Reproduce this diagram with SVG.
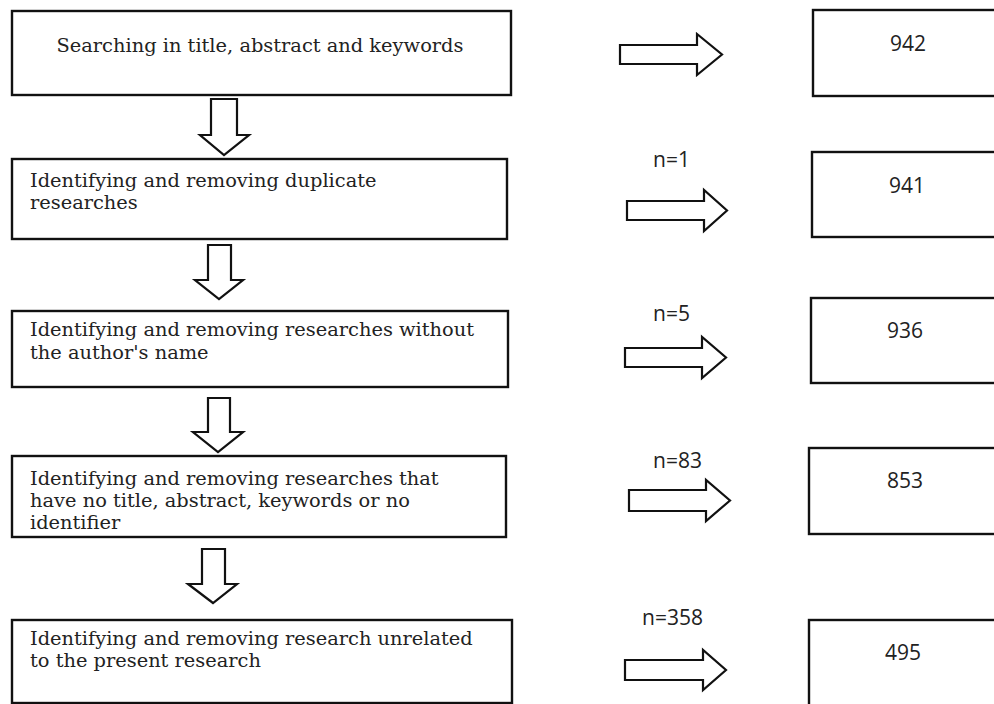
<svg xmlns="http://www.w3.org/2000/svg" width="994" height="704" viewBox="0 0 994 704">
<style>
.box{fill:#fff;stroke:#111;stroke-width:2.4}
.arr{fill:#fff;stroke:#111;stroke-width:2.2;stroke-linejoin:miter}
.lt{font-family:"DejaVu Serif","Liberation Serif",serif;font-size:19.4px;fill:#222}
.num{font-family:"Open Sans","DejaVu Sans",sans-serif;font-size:21px;fill:#222;text-anchor:middle}
.n{font-family:"Open Sans","DejaVu Sans",sans-serif;font-size:21px;fill:#222}
</style>
<rect width="994" height="704" fill="#fff"/>
<g id="step1"><rect class="box" x="12" y="11" width="499" height="84"/><text class="lt" x="260" y="52" text-anchor="middle">Searching in title, abstract and keywords</text></g>
<g id="step2"><rect class="box" x="12" y="159" width="495" height="80"/><text class="lt" x="30" y="187">Identifying and removing duplicate</text><text class="lt" x="30" y="209">researches</text></g>
<g id="step3"><rect class="box" x="12" y="311" width="496" height="76"/><text class="lt" x="30" y="336">Identifying and removing researches without</text><text class="lt" x="30" y="359">the author's name</text></g>
<g id="step4"><rect class="box" x="12" y="456" width="494" height="81"/><text class="lt" x="30" y="485">Identifying and removing researches that</text><text class="lt" x="30" y="507">have no title, abstract, keywords or no</text><text class="lt" x="30" y="529">identifier</text></g>
<g id="step5"><rect class="box" x="12" y="620" width="500" height="83"/><text class="lt" x="30" y="645">Identifying and removing research unrelated</text><text class="lt" x="30" y="667">to the present research</text></g>
<g id="res1"><rect class="box" x="813" y="10" width="200" height="86"/><text class="num" x="908" y="51">942</text></g>
<g id="res2"><rect class="box" x="812" y="152" width="200" height="85"/><text class="num" x="907" y="193">941</text></g>
<g id="res3"><rect class="box" x="811" y="298" width="200" height="85"/><text class="num" x="905" y="338">936</text></g>
<g id="res4"><rect class="box" x="809" y="448" width="200" height="86"/><text class="num" x="905" y="488">853</text></g>
<g id="res5"><rect class="box" x="809" y="620" width="200" height="100"/><text class="num" x="903" y="660">495</text></g>
<g id="connectors">
<path class="arr" d="M211,99 H237 V135 H249 L224,155 L200,135 H211 Z"/>
<path class="arr" d="M208,245 H231 V280 H243 L219,299 L195,280 H208 Z"/>
<path class="arr" d="M208,398 H230 V432 H243 L218,452 L193,432 H208 Z"/>
<path class="arr" d="M202,549 H225 V584 H237 L213,603 L188,584 H202 Z"/>
<path class="arr" d="M620,45 H697 V34 L722,54.5 L697,75 V64 H620 Z"/>
<path class="arr" d="M627,201 H704 V190 L727,210.5 L704,231 V220 H627 Z"/>
<path class="arr" d="M625,348 H702 V337 L726,357.5 L702,378 V367 H625 Z"/>
<path class="arr" d="M629,490 H706 V480 L730,500.5 L706,521 V511 H629 Z"/>
<path class="arr" d="M625,660 H703 V650 L726,670 L703,690 V680 H625 Z"/>
<text class="n" x="653" y="167">n=1</text>
<text class="n" x="653" y="321">n=5</text>
<text class="n" x="653" y="468">n=83</text>
<text class="n" x="642" y="625">n=358</text>
</g>
</svg>
